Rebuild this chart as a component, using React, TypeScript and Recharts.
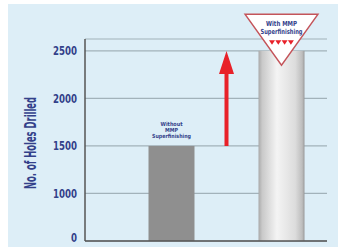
import { BarChart, Bar, XAxis, YAxis, CartesianGrid } from "recharts";

const categories = ["Without MMP Superfinishing", "Improvement", "With MMP Superfinishing"];
const holesDrilled = [1500, 2500];
const tickLabels = [0, 1000, 1500, 2000, 2500];

const NAVY = "#33418a";
const FONT = "'Liberation Sans Narrow', 'DejaVu Sans Condensed', Roboto, sans-serif";

// the original axis is broken: its labels sit at equal steps
const toAxis = (v: number) => {
  for (let i = 1; i < tickLabels.length; i++) {
    if (v <= tickLabels[i]) {
      const a = tickLabels[i - 1];
      const b = tickLabels[i];
      return i - 1 + (v - a) / (b - a);
    }
  }
  return tickLabels.length - 1;
};

const chartData = [
  { name: categories[0], kind: "without", range: [0, toAxis(holesDrilled[0])] },
  { name: categories[1], kind: "arrow", range: [toAxis(holesDrilled[0]), toAxis(holesDrilled[1])] },
  { name: categories[2], kind: "with", range: [0, toAxis(holesDrilled[1])] },
];

const Narrow = ({ x, y, len, size, children, fill = NAVY }: any) => (
  <text
    x={x}
    y={y}
    textAnchor="middle"
    fontFamily={FONT}
    fontWeight="bold"
    fontSize={size}
    fill={fill}
    textLength={len}
    lengthAdjust="spacingAndGlyphs"
  >
    {children}
  </text>
);

const BarShape = (props: any) => {
  const { x, y, width, height, payload } = props;
  const cx = x + width / 2;

  if (payload.kind === "arrow") {
    const top = y;
    const bottom = y + height;
    const pts = [
      [cx, top],
      [cx + 7.5, top + 23],
      [cx + 2, top + 23],
      [cx + 2, bottom],
      [cx - 2, bottom],
      [cx - 2, top + 23],
      [cx - 7.5, top + 23],
    ]
      .map((p) => p.join(","))
      .join(" ");
    return <polygon points={pts} fill="#e82129" />;
  }

  if (payload.kind === "without") {
    return (
      <g>
        <rect x={x} y={y} width={width} height={height} fill="#8f8f8f" />
        <Narrow x={cx} y={y - 19.5} len={22} size={5.6}>Without</Narrow>
        <Narrow x={cx} y={y - 13.5} len={13} size={5.6}>MMP</Narrow>
        <Narrow x={cx} y={y - 7.5} len={39} size={5.6}>Superfinishing</Narrow>
      </g>
    );
  }

  const tri = `${cx - 36.5},${y - 36.7} ${cx + 36.5},${y - 36.7} ${cx},${y + 14.3}`;
  const minis = [0, 1, 2, 3].map((i) => {
    const mx = cx - 9.5 + i * 6.3;
    return (
      <polygon
        key={i}
        points={`${mx - 3},${y - 10.7} ${mx + 3},${y - 10.7} ${mx},${y - 6.2}`}
        fill="#e82129"
      />
    );
  });
  return (
    <g>
      <defs>
        <linearGradient id="cyl" x1="0" y1="0" x2="1" y2="0">
          <stop offset="0%" stopColor="#a9a9a9" />
          <stop offset="8%" stopColor="#c9c9c9" />
          <stop offset="40%" stopColor="#f4f4f4" />
          <stop offset="80%" stopColor="#dcdcdc" />
          <stop offset="95%" stopColor="#bdbdbd" />
          <stop offset="100%" stopColor="#999" />
        </linearGradient>
      </defs>
      <rect x={x} y={y} width={width} height={height} fill="url(#cyl)" />
      <polygon points={tri} fill="#ffffff" stroke="#c4545a" strokeWidth={1.4} />
      <Narrow x={cx} y={y - 24.4} len={31} size={7}>With MMP</Narrow>
      <Narrow x={cx} y={y - 16.4} len={42} size={7}>Superfinishing</Narrow>
      {minis}
    </g>
  );
};

const YTick = (props: any) => {
  const { x, y, payload, index } = props;
  const label = String(tickLabels[payload.value]);
  return (
    <text
      x={x}
      y={y + (index === 0 ? -4 : 0)}
      dy={4.5}
      textAnchor="end"
      fontFamily={FONT}
      fontWeight="bold"
      fontSize={12.5}
      fill={NAVY}
      textLength={label.length * 6}
      lengthAdjust="spacingAndGlyphs"
    >
      {label}
    </text>
  );
};

const YLabel = (props: any) => {
  const { viewBox } = props;
  const lx = viewBox.x + 11;
  const ly = viewBox.y + viewBox.height / 2 + 3;
  return (
    <text
      x={lx}
      y={ly}
      transform={`rotate(-90, ${lx}, ${ly})`}
      textAnchor="middle"
      fontFamily={FONT}
      fontWeight="bold"
      fontSize={15}
      fill={NAVY}
      textLength={92}
      lengthAdjust="spacingAndGlyphs"
    >
      No. of Holes Drilled
    </text>
  );
};

export default function App() {
  return (
    <div
      style={{
        position: "absolute",
        left: 8,
        top: 4,
        width: 330,
        height: 243,
        background: "#ddeef7",
      }}
    >
      <BarChart
        width={330}
        height={243}
        data={chartData}
        margin={{ top: 35, right: 11, bottom: 5, left: 17 }}
      >
        <CartesianGrid vertical={false} stroke="#a2b2ba" strokeWidth={1.2} />
        <XAxis
          dataKey="name"
          tick={false}
          tickLine={false}
          height={1}
          axisLine={{ stroke: "#555", strokeWidth: 1.5 }}
          padding={{ left: 58.5, right: 18.5 }}
        />
        <YAxis
          type="number"
          domain={[0, 4.25]}
          ticks={[0, 1, 2, 3, 4]}
          interval={0}
          width={60}
          tickLine={false}
          axisLine={{ stroke: "#555", strokeWidth: 1.5 }}
          tick={<YTick />}
          label={{ content: <YLabel /> }}
        />
        <Bar
          dataKey={(d: any) => d.range}
          barSize={46}
          shape={<BarShape />}
          isAnimationActive={false}
        />
      </BarChart>
    </div>
  );
}
